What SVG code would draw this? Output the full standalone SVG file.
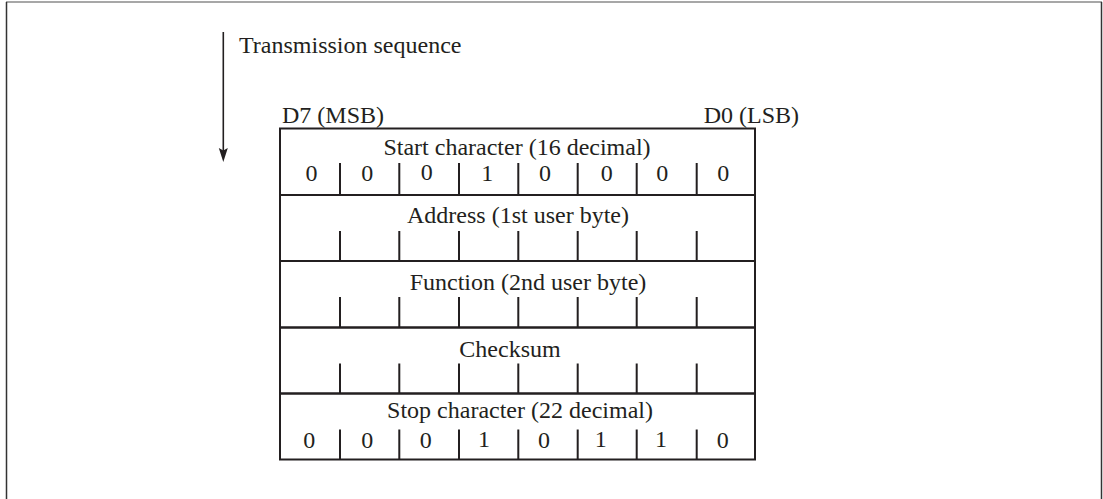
<svg xmlns="http://www.w3.org/2000/svg" width="1103" height="499" viewBox="0 0 1103 499">
<style>
  .t { font-family: "Liberation Serif", "Times New Roman", serif; font-size: 24px; fill: #231f20; }
  .m { text-anchor: middle; }
  .box { fill: none; stroke: #231f20; stroke-width: 2; }
  .div { stroke: #231f20; stroke-width: 2; }
</style>
<rect width="1103" height="499" fill="#ffffff"/>
<g id="frame">
  <line x1="6" y1="2" x2="1102" y2="2" stroke="#8a8a8a" stroke-width="1.5"/>
  <line x1="6.5" y1="2" x2="6.5" y2="499" stroke="#333333" stroke-width="1.5"/>
  <line x1="1101.5" y1="2" x2="1101.5" y2="499" stroke="#333333" stroke-width="1.5"/>
</g>
<g id="connectors">
  <line x1="223.3" y1="32" x2="223.3" y2="151" stroke="#231f20" stroke-width="1.6"/>
  <path d="M218.8,148 L223.3,150.5 L227.8,148 L223.3,162 Z" fill="#231f20"/>
</g>
<g id="labels">
  <text class="t" x="239" y="53">Transmission sequence</text>
  <text class="t" x="282" y="123">D7 (MSB)</text>
  <text class="t" x="799" y="123" text-anchor="end">D0 (LSB)</text>
</g>
<g id="row-start">
  <rect class="box" x="280" y="128.5" width="475" height="66.5"/>
  <text class="t m" x="517" y="155">Start character (16 decimal)</text>
  <path class="div" d="M340,163 V195 M399.3,163 V195 M459,163 V195 M518.3,163 V195 M577.7,163 V195 M636.7,163 V195 M696.7,163 V195"/>
  <text class="t m" x="311.5" y="181">0</text>
  <text class="t m" x="367.3" y="181">0</text>
  <text class="t m" x="426.7" y="180">0</text>
  <text class="t m" x="487.3" y="181">1</text>
  <text class="t m" x="545" y="181">0</text>
  <text class="t m" x="606.7" y="181">0</text>
  <text class="t m" x="662.3" y="181">0</text>
  <text class="t m" x="723.3" y="181">0</text>
</g>
<g id="row-address">
  <rect class="box" x="280" y="195" width="475" height="66"/>
  <text class="t m" x="518" y="223">Address (1st user byte)</text>
  <path class="div" d="M340,231 V261 M399.3,231 V261 M459,231 V261 M518.3,231 V261 M577.7,231 V261 M636.7,231 V261 M696.7,231 V261"/>
</g>
<g id="row-function">
  <rect class="box" x="280" y="261" width="475" height="66.5"/>
  <text class="t m" x="528" y="290">Function (2nd user byte)</text>
  <path class="div" d="M340,297 V327.5 M399.3,297 V327.5 M459,297 V327.5 M518.3,297 V327.5 M577.7,297 V327.5 M636.7,297 V327.5 M696.7,297 V327.5"/>
</g>
<g id="row-checksum">
  <rect class="box" x="280" y="327.5" width="475" height="66"/>
  <text class="t m" x="510" y="356.5">Checksum</text>
  <path class="div" d="M340,363.5 V393.5 M399.3,363.5 V393.5 M459,363.5 V393.5 M518.3,363.5 V393.5 M577.7,363.5 V393.5 M636.7,363.5 V393.5 M696.7,363.5 V393.5"/>
</g>
<g id="row-stop">
  <rect class="box" x="280" y="393.5" width="475" height="66"/>
  <text class="t m" x="520" y="417.5">Stop character (22 decimal)</text>
  <path class="div" d="M340,429.5 V459.5 M399.3,429.5 V459.5 M459,429.5 V459.5 M518.3,429.5 V459.5 M577.7,429.5 V459.5 M636.7,429.5 V459.5 M696.7,429.5 V459.5"/>
  <text class="t m" x="309.3" y="447.5">0</text>
  <text class="t m" x="367.3" y="447.5">0</text>
  <text class="t m" x="425.7" y="447.5">0</text>
  <text class="t m" x="484" y="446.5">1</text>
  <text class="t m" x="544" y="447.5">0</text>
  <text class="t m" x="600.7" y="446.5">1</text>
  <text class="t m" x="661" y="446.5">1</text>
  <text class="t m" x="722.7" y="447.5">0</text>
</g>
</svg>
